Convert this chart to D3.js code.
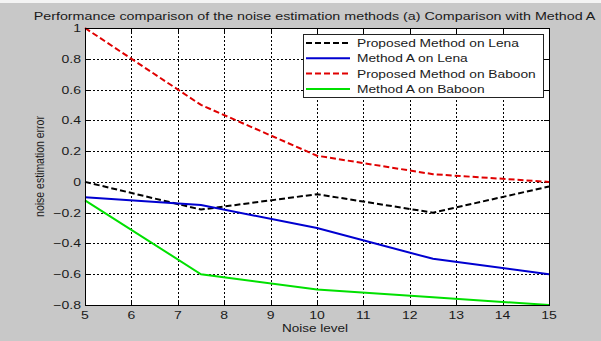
<!DOCTYPE html>
<html>
<head>
<meta charset="utf-8">
<script src="https://cdn.jsdelivr.net/npm/d3@7"></script>
<style>
  html, body { margin: 0; padding: 0; background: #c8c8c8; }
  svg { display: block; }
  text { font-family: "Liberation Sans", Arial, sans-serif; fill: #1a1a1a; }
</style>
</head>
<body>
<svg id="chart" width="601" height="341"></svg>
<script>
// Noise levels at which each method was evaluated
const noiseLevels = [5, 7.5, 10, 12.5, 15];

// Estimation error per method / image
const proposedLena   = [0.0, -0.18, -0.08, -0.20, -0.03];
const methodALena    = [-0.10, -0.15, -0.30, -0.50, -0.60];
const proposedBaboon = [1.0, 0.50, 0.17, 0.05, 0.0];
const methodABaboon  = [-0.12, -0.60, -0.70, -0.75, -0.80];

const xTicks = [5, 6, 7, 8, 9, 10, 11, 12, 13, 14, 15];
const yTicks = [-0.8, -0.6, -0.4, -0.2, 0, 0.2, 0.4, 0.6, 0.8, 1];

const seriesNames = ["Proposed Method on Lena", "Method A on Lena",
                     "Proposed Method on Baboon", "Method A on Baboon"];
const seriesColors = ["#000000", "#0000d0", "#e00000", "#00e000"];
const seriesDash = ["6,3", null, "6,3", null];
const seriesValues = [proposedLena, methodALena, proposedBaboon, methodABaboon];

const W = 601, H = 341;
const plot = { left: 85, right: 549, top: 28, bottom: 305 };

const svg = d3.select("#chart");

// text drawn with a slightly wide aspect (figure was exported stretched)
function label(parent, x, y, str, size, sx, anchor) {
  return parent.append("text")
    .attr("transform", `translate(${x},${y}) scale(${sx},1)`)
    .attr("text-anchor", anchor)
    .attr("font-size", size)
    .text(str);
}

// figure background with light strip along the top edge
svg.append("rect").attr("width", W).attr("height", H).attr("fill", "#c8c8c8");
svg.append("rect").attr("width", W).attr("height", 3).attr("fill", "#f4f4f4");

const x = d3.scaleLinear().domain([5, 15]).range([plot.left, plot.right]);
const y = d3.scaleLinear().domain([-0.8, 1]).range([plot.bottom, plot.top]);

// axes background
svg.append("rect")
  .attr("x", plot.left).attr("y", plot.top)
  .attr("width", plot.right - plot.left).attr("height", plot.bottom - plot.top)
  .attr("fill", "#ffffff");

// dotted grid
const grid = svg.append("g").attr("stroke", "#000").attr("stroke-width", 1)
  .attr("stroke-dasharray", "2,2").attr("shape-rendering", "crispEdges");
grid.selectAll(".gx").data(xTicks.slice(1, -1)).join("line")
  .attr("x1", d => Math.round(x(d)) + 0.5).attr("x2", d => Math.round(x(d)) + 0.5)
  .attr("y1", plot.top).attr("y2", plot.bottom);
grid.selectAll(".gy").data(yTicks.slice(1, -1)).join("line")
  .attr("y1", d => Math.round(y(d)) + 0.5).attr("y2", d => Math.round(y(d)) + 0.5)
  .attr("x1", plot.left).attr("x2", plot.right);

// inward ticks on all four sides
const tickLen = 5;
const ticks = svg.append("g").attr("stroke", "#000").attr("stroke-width", 1)
  .attr("shape-rendering", "crispEdges");
xTicks.forEach(t => {
  const px = Math.round(x(t)) + 0.5;
  ticks.append("line").attr("x1", px).attr("x2", px).attr("y1", plot.bottom).attr("y2", plot.bottom - tickLen);
  ticks.append("line").attr("x1", px).attr("x2", px).attr("y1", plot.top).attr("y2", plot.top + tickLen);
});
yTicks.forEach(t => {
  const py = Math.round(y(t)) + 0.5;
  ticks.append("line").attr("y1", py).attr("y2", py).attr("x1", plot.left).attr("x2", plot.left + tickLen);
  ticks.append("line").attr("y1", py).attr("y2", py).attr("x1", plot.right).attr("x2", plot.right - tickLen);
});

// data lines
const line = d3.line().x((d, i) => x(noiseLevels[i])).y(d => y(d));
const linesG = svg.append("g");
seriesValues.forEach((vals, k) => {
  linesG.append("path")
    .attr("d", line(vals))
    .attr("fill", "none")
    .attr("stroke", seriesColors[k])
    .attr("stroke-width", 2)
    .attr("stroke-dasharray", seriesDash[k]);
});

// axes box
svg.append("rect")
  .attr("x", plot.left + 0.5).attr("y", plot.top + 0.5)
  .attr("width", plot.right - plot.left).attr("height", plot.bottom - plot.top)
  .attr("fill", "none").attr("stroke", "#000").attr("stroke-width", 1)
  .attr("shape-rendering", "crispEdges");

// tick labels
const fmt = d => (d === 0 || d === 1) ? String(d) : d3.format(".1f")(d);
const xLab = svg.append("g");
xTicks.forEach(t => label(xLab, x(t), 319, String(t), 11.5, 1.22, "middle"));
const yLab = svg.append("g");
yTicks.forEach(t => label(yLab, 81, y(t) + 4, fmt(t), 11.5, 1.22, "end"));

// axis titles
label(svg, (plot.left + plot.right) / 2 - 2, 332, "Noise level", 11, 1.23, "middle");
svg.append("text")
  .attr("transform", `translate(44,${(plot.top + plot.bottom) / 2}) scale(1.25,1) rotate(-90)`)
  .attr("text-anchor", "middle").attr("font-size", 10.5)
  .text("noise estimation error");

// chart title
label(svg, 314.5, 20, "Performance comparison of the noise estimation methods (a) Comparison with Method A",
      11, 1.3, "middle");

// legend
const lg = svg.append("g");
lg.append("rect")
  .attr("x", 303.5).attr("y", 34.5).attr("width", 240).attr("height", 63)
  .attr("fill", "#ffffff").attr("stroke", "#222").attr("stroke-width", 1);
seriesNames.forEach((name, k) => {
  const ry = 43 + k * 15.3;
  lg.append("line")
    .attr("x1", 306).attr("x2", 350).attr("y1", ry).attr("y2", ry)
    .attr("stroke", seriesColors[k]).attr("stroke-width", 2)
    .attr("stroke-dasharray", seriesDash[k]);
  label(lg, 357, ry + 4, name, 11, 1.25, "start");
});
</script>
</body>
</html>
